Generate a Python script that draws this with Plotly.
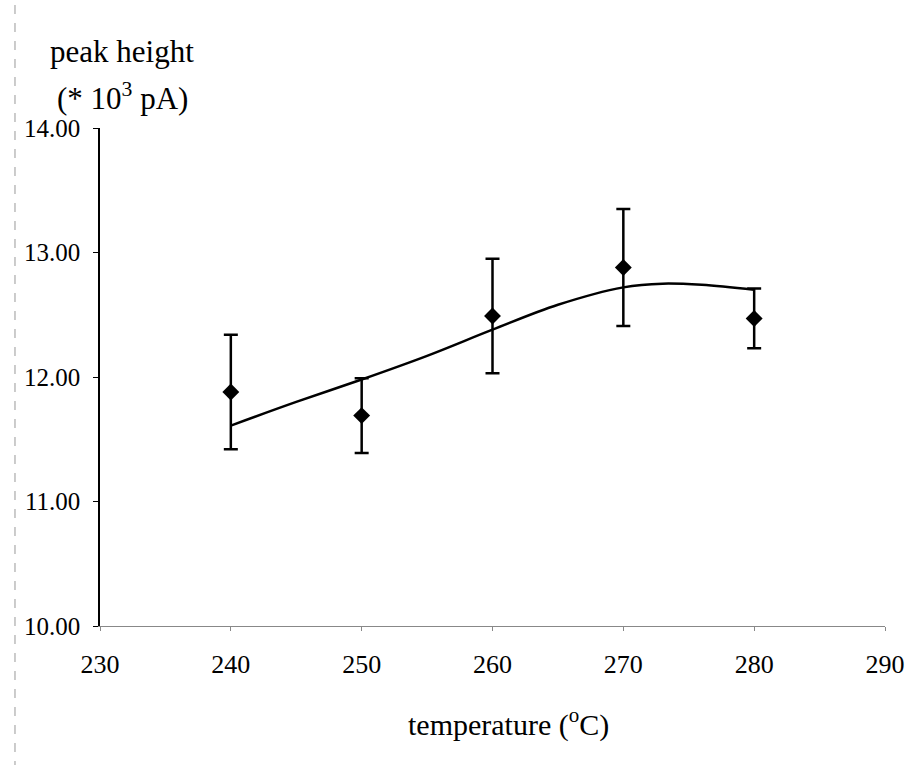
import plotly.graph_objects as go

# measured data
temperature = [240, 250, 260, 270, 280]
peak_height = [11.88, 11.69, 12.49, 12.88, 12.47]
error = [0.46, 0.30, 0.46, 0.47, 0.24]

# trend curve
curve_t = [240, 245, 250, 255, 260, 265, 270, 273, 276, 280]
curve_y = [11.61, 11.80, 11.98, 12.17, 12.38, 12.58, 12.72, 12.75, 12.74, 12.70]

x_ticks = [230, 240, 250, 260, 270, 280, 290]
y_ticks = [10, 11, 12, 13, 14]
y_ticklabels = ["10.00", "11.00", "12.00", "13.00", "14.00"]

FONT = "Liberation Serif"

fig = go.Figure()
fig.add_trace(go.Scatter(
    x=curve_t, y=curve_y, mode="lines", line=dict(color="black", width=2.5, shape="spline"),
    hoverinfo="skip", showlegend=False))
fig.add_trace(go.Scatter(
    x=temperature, y=peak_height, mode="markers",
    marker=dict(symbol="diamond", size=13, color="black"),
    error_y=dict(type="data", array=error, visible=True, color="black", thickness=2.5, width=7),
    showlegend=False))

L, R, T, B = 99.5, 28, 128, 146
W, H = 917, 772
pw, ph = W - L - R, H - T - B

def px(xp):
    return (xp - L) / pw

def py(yp):
    return (H - B - yp) / ph

annotations = [
    dict(text=lab, xref="paper", yref="y", x=px(81), y=v, xanchor="right", yanchor="middle",
         showarrow=False, font=dict(size=25, family=FONT))
    for v, lab in zip(y_ticks, y_ticklabels)
]
annotations += [
    dict(text="peak height", xref="paper", yref="paper", x=px(47), y=py(51),
         xanchor="left", yanchor="middle", showarrow=False, font=dict(size=31, family=FONT)),
    dict(text="(* 10<sup>3</sup> pA)", xref="paper", yref="paper", x=px(54), y=py(96),
         xanchor="left", yanchor="middle", showarrow=False, font=dict(size=31, family=FONT)),
    dict(text="temperature (<sup>o</sup>C)", xref="paper", yref="paper", x=px(510), y=py(722),
         xanchor="center", yanchor="middle", showarrow=False, font=dict(size=30, family=FONT)),
]

fig.update_layout(
    width=W, height=H,
    margin=dict(l=L, r=R, t=T, b=B, pad=0),
    paper_bgcolor="white", plot_bgcolor="white",
    font=dict(family=FONT, color="black", size=26),
    xaxis=dict(range=[230, 290], tickvals=x_ticks, ticktext=[str(v) for v in x_ticks],
               showgrid=False, zeroline=False, showline=True, linecolor="#888", linewidth=1,
               ticks="outside", ticklen=4, tickcolor="#888", tickfont=dict(size=26, family=FONT),
               ticklabelstandoff=11, fixedrange=True),
    yaxis=dict(range=[10, 14], tickvals=y_ticks, showticklabels=False,
               showgrid=False, zeroline=False, showline=True, linecolor="black", linewidth=1.5,
               ticks="outside", ticklen=5, tickcolor="black", fixedrange=True),
    annotations=annotations,
    shapes=[
        dict(type="line", xref="paper", yref="paper", x0=px(14), x1=px(14), y0=py(5), y1=py(765),
             line=dict(color="#999", width=1, dash="dash")),
    ],
)

fig.write_html("out.html")
